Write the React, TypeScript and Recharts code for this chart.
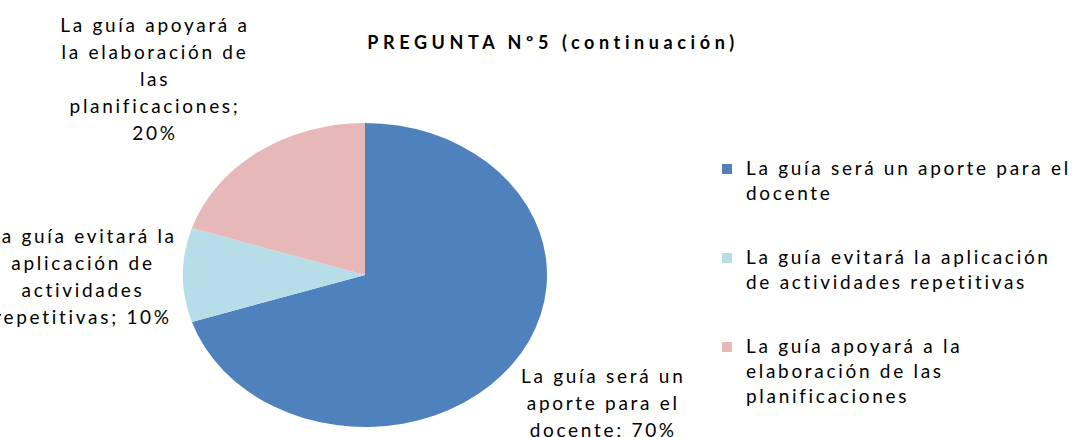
import { PieChart, Pie, Cell, Legend } from "recharts";

const categories = [
  "La guía será un aporte para el docente",
  "La guía evitará la aplicación de actividades repetitivas",
  "La guía apoyará a la elaboración de las planificaciones",
];
const percentages = [70, 10, 20];
const COLORS = ["#4F81BD", "#B7DEE8", "#E6B9B8"];

const W = 1072;
const H = 437;
const CX = 365;
const CY = 275;
const RX = 182;
const RY_RATIO = 0.835;
// label block centre, relative to the slice edge at its mid angle
const LABEL_SHIFT = [
  [91, 38],
  [-100, 0],
  [-103, -74],
];
const FONT = "Lato, 'DejaVu Sans', sans-serif";
const TEXT_SIZE = 19;
const TEXT_SPACING = 2.7;
const RAD = Math.PI / 180;

const data = categories.map((name, i) => ({ name, value: percentages[i] }));

function wrap(text: string, max: number) {
  const lines: string[] = [];
  let cur = "";
  for (const w of text.split(" ")) {
    const next = cur ? cur + " " + w : w;
    if (next.length > max && cur) {
      lines.push(cur);
      cur = w;
    } else cur = next;
  }
  if (cur) lines.push(cur);
  return lines;
}

// stretched (elliptical) sector like the Excel original
function EllipseSector(props: any) {
  const { cx, cy, outerRadius, startAngle, endAngle, fill } = props;
  const rx = outerRadius;
  const ry = outerRadius * RY_RATIO;
  const pt = (a: number) => [cx + rx * Math.cos(a * RAD), cy - ry * Math.sin(a * RAD)];
  const [x1, y1] = pt(startAngle);
  const [x2, y2] = pt(endAngle);
  const delta = endAngle - startAngle;
  const large = Math.abs(delta) > 180 ? 1 : 0;
  const sweep = delta < 0 ? 1 : 0;
  const d = `M${cx},${cy} L${x1},${y1} A${rx},${ry} 0 ${large} ${sweep} ${x2},${y2} Z`;
  return <path d={d} fill={fill} stroke="none" />;
}

function renderLabel(props: any) {
  const { cx, cy, midAngle, outerRadius, index, name, value } = props;
  const ex = cx + outerRadius * Math.cos(midAngle * RAD);
  const ey = cy - outerRadius * RY_RATIO * Math.sin(midAngle * RAD);
  const [dx, dy] = LABEL_SHIFT[index];
  const x = ex + dx;
  const lines = wrap(`${name}; ${value}%`, 18);
  const y0 = ey + dy - ((lines.length - 1) / 2) * 27;
  return (
    <text
      key={`lbl-${index}`}
      x={x}
      y={y0}
      textAnchor="middle"
      dominantBaseline="central"
      fontFamily={FONT}
      fontSize={TEXT_SIZE}
      letterSpacing={TEXT_SPACING}
      fill="#000"
    >
      {lines.map((l, i) => (
        <tspan key={i} x={x} y={y0 + i * 27}>
          {l}
        </tspan>
      ))}
    </text>
  );
}

function renderLegend() {
  return (
    <div style={{ fontFamily: FONT, fontSize: TEXT_SIZE, letterSpacing: TEXT_SPACING, color: "#000" }}>
      {categories.map((name, i) => (
        <div key={name} style={{ display: "flex", marginBottom: 39 }}>
          <div
            style={{
              width: 10,
              height: 10,
              marginTop: 9,
              marginRight: 14,
              background: COLORS[i],
              flex: "none",
            }}
          />
          <div>
            {wrap(name, 30).map((l, j) => (
              <div key={j} style={{ height: 25, lineHeight: "25px", whiteSpace: "nowrap" }}>
                {l}
              </div>
            ))}
          </div>
        </div>
      ))}
    </div>
  );
}

export default function App() {
  return (
    <div style={{ position: "absolute", left: 0, top: 0, width: W, height: H, background: "#fff" }}>
      <div
        style={{
          position: "absolute",
          left: 0,
          width: 1106,
          top: 31,
          textAlign: "center",
          fontFamily: FONT,
          fontWeight: "bold",
          fontSize: 18,
          letterSpacing: 4.6,
          color: "#000",
        }}
      >
        PREGUNTA Nº5 (continuación)
      </div>
      <PieChart width={W} height={H} margin={{ top: 0, right: 0, bottom: 0, left: 0 }}>
        <Pie
          data={data}
          dataKey="value"
          nameKey="name"
          cx={CX}
          cy={CY}
          outerRadius={RX}
          startAngle={90}
          endAngle={-270}
          stroke="none"
          label={renderLabel}
          labelLine={false}
          shape={EllipseSector}
          activeShape={EllipseSector}
          inactiveShape={EllipseSector}
          isAnimationActive={false}
        >
          {data.map((d, i) => (
            <Cell key={d.name} fill={COLORS[i]} />
          ))}
        </Pie>
        <Legend
          layout="vertical"
          content={renderLegend}
          wrapperStyle={{ position: "absolute", left: 722, top: 155, width: 350 }}
        />
      </PieChart>
    </div>
  );
}
